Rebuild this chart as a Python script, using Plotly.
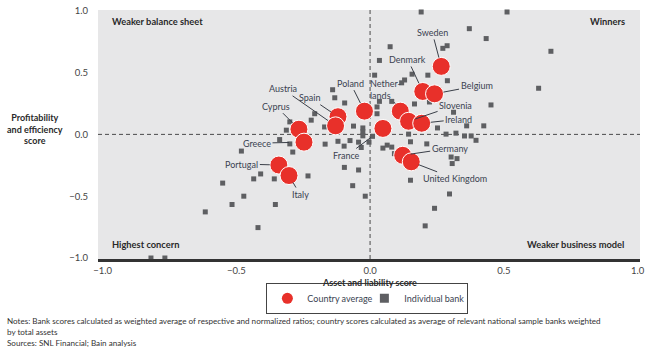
import plotly.graph_objects as go

# ---- data ----
countries = ["Sweden", "Denmark", "Belgium", "Netherlands", "Slovenia", "Ireland",
             "France", "Poland", "Spain", "Austria", "Cyprus", "Greece",
             "Portugal", "Italy", "Germany", "United Kingdom"]
country_x = [0.266, 0.197, 0.241, 0.113, 0.144, 0.193, 0.048, -0.021, -0.120, -0.129,
             -0.266, -0.247, -0.341, -0.303, 0.122, 0.154]
country_y = [0.550, 0.347, 0.328, 0.188, 0.106, 0.090, 0.048, 0.188, 0.143, 0.069,
             0.042, -0.063, -0.248, -0.333, -0.169, -0.222]

bank_x = [-0.140, -0.132, -0.095, -0.207, -0.220, -0.300, -0.313, -0.170, -0.062, -0.027,
          -0.027, -0.027, -0.338, -0.300, -0.289, -0.481, -0.409, -0.435, -0.358, -0.551,
          -0.232, -0.472, -0.516, -0.354, -0.616, -0.419, -0.168, -0.120, -0.097, -0.075,
          -0.043, -0.033, -0.004, 0.009, -0.096, -0.043, -0.065, -0.018, -0.819, -0.767,
          0.191, 0.512, 0.371, 0.434, 0.288, 0.272, 0.075, 0.676, 0.035, 0.017,
          0.216, 0.157, 0.129, 0.118, 0.289, 0.630, 0.035, 0.081, 0.166, 0.222,
          0.312, 0.452, 0.026, 0.026, 0.252, 0.361, 0.425, 0.144, 0.284, 0.321,
          0.353, 0.378, 0.396, 0.151, 0.212, 0.048, 0.064, 0.081, 0.091, 0.303,
          0.325, 0.307, 0.151, 0.297, 0.241, 0.206]
bank_y = [0.361, 0.296, 0.254, 0.167, 0.115, 0.101, 0.034, 0.060, 0.067, 0.052,
          0.021, -0.012, -0.042, -0.077, -0.143, -0.135, -0.320, -0.360, -0.360, -0.394,
          -0.336, -0.500, -0.567, -0.567, -0.627, -0.754, -0.079, -0.056, -0.095, -0.050,
          -0.063, -0.106, -0.063, -0.016, -0.267, -0.288, -0.415, -0.500, -1.0, -1.0,
          0.99, 0.99, 0.855, 0.775, 0.717, 0.696, 0.709, 0.672, 0.598, 0.479,
          0.479, 0.487, 0.440, 0.417, 0.434, 0.373, 0.267, 0.267, 0.246, 0.262,
          0.179, 0.238, 0.222, 0.167, 0.052, 0.069, 0.069, 0.002, 0.002, 0.010,
          -0.013, -0.013, -0.048, -0.060, -0.077, -0.111, -0.087, -0.103, -0.156, -0.183,
          -0.196, -0.236, -0.371, -0.482, -0.598, -0.740]

x_ticks = [-1.0, -0.5, 0.0, 0.5, 1.0]
y_ticks = [-1.0, -0.5, 0.0, 0.5, 1.0]

quadrant_labels = ["Weaker balance sheet", "Winners", "Highest concern", "Weaker business model"]
notes = ["Notes: Bank scores calculated as weighted average of respective and normalized ratios; country scores calculated as average of relevant national sample banks weighted",
         "by total assets",
         "Sources: SNL Financial; Bain analysis"]

# ---- style / label placement (pixel offsets of labels from their circle) ----
label_text = {"Netherlands": "Nether-<br>lands"}
label_offset = {
    "Sweden": (-9, -34, 9), "Denmark": (-15, -32, 9), "Belgium": (42, -8, 9),
    "Netherlands": (-15, -22, 9), "Slovenia": (47, -16, 7), "Ireland": (37, -4, 9),
    "France": (-36, 27, 15), "Poland": (-14, -28, 9), "Spain": (-28, -19, 8),
    "Austria": (-53, -37, 9), "Cyprus": (-23, -23, 9), "Greece": (-47, 1, 15),
    "Portugal": (-37, -1, 9), "Italy": (11, 19, 8), "Germany": (47, -7, 8),
    "United Kingdom": (44, 17, 8),
}

FONT = "Lato"
RED = "#E8302A"
SQ = "#5e5f62"
TXT = "#3a4250"

fig = go.Figure()

fig.add_trace(go.Scatter(
    x=bank_x, y=bank_y, mode="markers", showlegend=False, cliponaxis=False,
    marker=dict(symbol="square", size=5, color=SQ), hoverinfo="skip"))
fig.add_trace(go.Scatter(
    x=country_x, y=country_y, mode="markers", showlegend=False, cliponaxis=False,
    marker=dict(symbol="circle", size=18, color=RED, line=dict(color="white", width=1)),
    text=countries, hoverinfo="text"))
# legend entries
fig.add_trace(go.Scatter(x=[None], y=[None], mode="markers", name="Country average",
                         legendwidth=52,
                         marker=dict(symbol="circle", size=11, color=RED)))
fig.add_trace(go.Scatter(x=[None], y=[None], mode="markers", name="Individual bank",
                         legendwidth=58,
                         marker=dict(symbol="square", size=9, color=SQ)))

annotations = []
for name, cx, cy in zip(countries, country_x, country_y):
    ax, ay, so = label_offset[name]
    annotations.append(dict(
        x=cx, y=cy, xref="x", yref="y", text=label_text.get(name, name),
        showarrow=True, arrowhead=0, arrowwidth=1, arrowcolor="#3a3f48",
        ax=ax, ay=ay, standoff=so, font=dict(family=FONT, size=9, color=TXT),
        align="left", borderpad=1))

q_pos = [(0.022, 0.953, "left"), (0.976, 0.953, "right"),
         (0.022, 0.059, "left"), (0.974, 0.059, "right")]
for t, (px, py, anc) in zip(quadrant_labels, q_pos):
    annotations.append(dict(x=px, y=py, xref="paper", yref="paper", text="<b>%s</b>" % t,
                            showarrow=False, xanchor=anc, yanchor="middle",
                            font=dict(family=FONT, size=9.3, color="#2a2a2a")))

annotations.append(dict(x=0.5, y=-0.096, xref="paper", yref="paper",
                        text="<b>Asset and liability score</b>", showarrow=False,
                        xanchor="center", yanchor="middle",
                        font=dict(family=FONT, size=9, color="#2a2a2a")))
annotations.append(dict(x=-0.116, y=0.522, xref="paper", yref="paper",
                        text="<b>Profitability<br>and efficiency<br>score</b>", showarrow=False,
                        xanchor="center", yanchor="middle", align="center",
                        font=dict(family=FONT, size=9, color="#2a2a2a")))
for line, py in zip(notes, [-0.249, -0.292, -0.336]):
    annotations.append(dict(x=-0.171, y=py, xref="paper", yref="paper", text=line,
                            showarrow=False, xanchor="left", yanchor="middle",
                            font=dict(family=FONT, size=8.1, color="#333333")))

shapes = [
    dict(type="line", xref="x", yref="paper", x0=0, x1=0, y0=0, y1=1,
         line=dict(color="#4a4a4a", width=1, dash="4px,3px"), layer="below"),
    dict(type="line", xref="paper", yref="y", x0=0, x1=1, y0=0, y1=0,
         line=dict(color="#4a4a4a", width=1, dash="4px,3px"), layer="below"),
]

fig.update_layout(
    width=650, height=352,
    margin=dict(l=98, r=9, t=5, b=93),
    paper_bgcolor="white", plot_bgcolor="#e7e7e8",
    font=dict(family=FONT, size=9.5, color="#444"),
    showlegend=True,
    legend=dict(orientation="h", x=0.497, y=-0.158, xanchor="center", yanchor="middle",
                bordercolor="#444", borderwidth=1, font=dict(family=FONT, size=9, color=TXT),
                itemwidth=30, tracegroupgap=0),
    annotations=annotations, shapes=shapes,
)
fig.update_xaxes(range=[-1.017, 1.009], tickvals=x_ticks, tickformat=".1f",
                 showgrid=False, zeroline=False, showline=True, linecolor="#333",
                 linewidth=3, ticks="outside", ticklen=1, tickcolor="rgba(0,0,0,0)",
                 ticklabeloverflow="allow",
                 tickfont=dict(family=FONT, size=9.5, color="#444"), fixedrange=True)
fig.update_yaxes(range=[-1.008, 1.006], tickvals=y_ticks, tickformat=".1f",
                 showgrid=False, zeroline=False, showline=False,
                 ticks="outside", ticklen=7, tickcolor="rgba(0,0,0,0)",
                 ticklabeloverflow="allow",
                 tickfont=dict(family=FONT, size=9.5, color="#444"), fixedrange=True)

fig.write_html("out.html")
